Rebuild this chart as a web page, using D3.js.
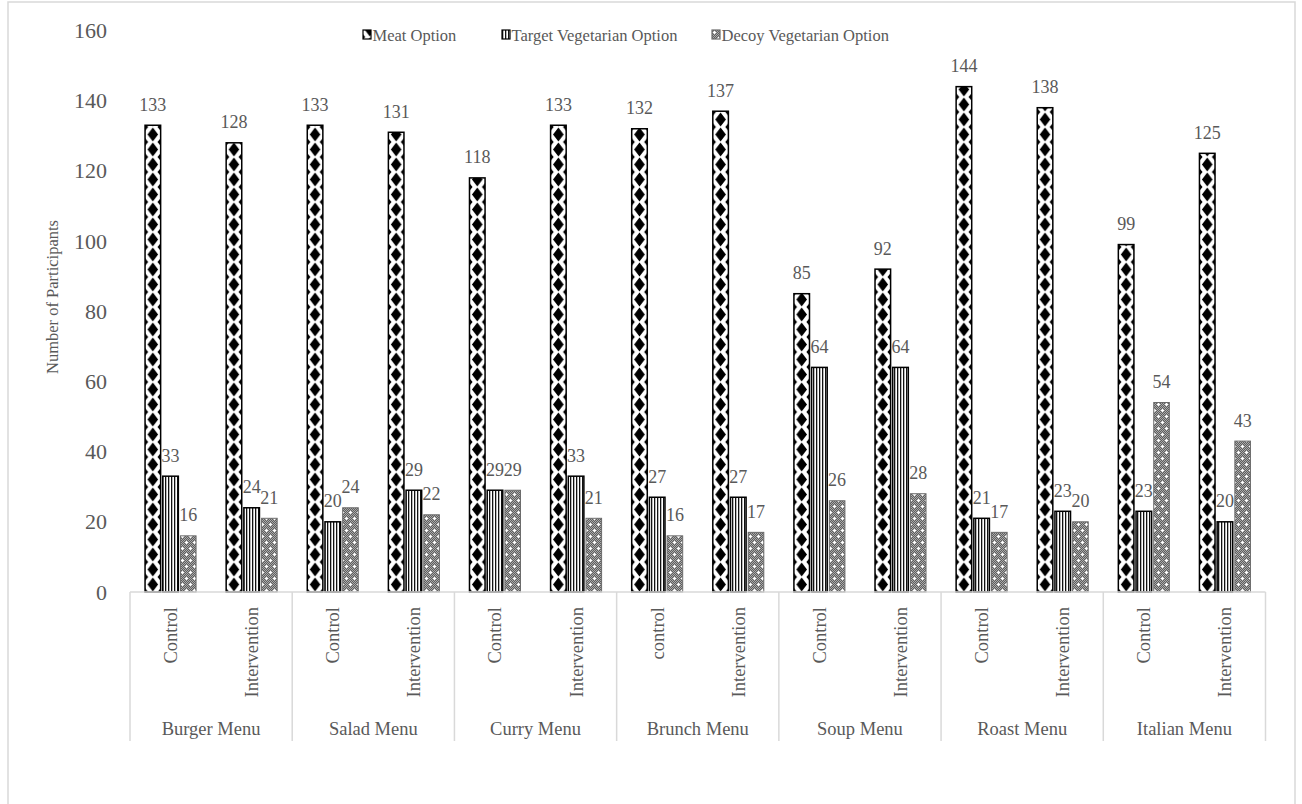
<!DOCTYPE html>
<html>
<head>
<meta charset="utf-8">
<script src="https://cdn.jsdelivr.net/npm/d3@7"></script>
<style>
  html, body { margin: 0; padding: 0; background: #fff; }
  svg { display: block; font-family: "Liberation Serif", "Times New Roman", serif; }
</style>
</head>
<body>
<svg id="chart" width="1302" height="804"></svg>
<script>
// Menu groups and the two conditions shown under each
const menus = ["Burger Menu", "Salad Menu", "Curry Menu", "Brunch Menu", "Soup Menu", "Roast Menu", "Italian Menu"];
const conditionLabels = [
  ["Control", "Intervention"],
  ["Control", "Intervention"],
  ["Control", "Intervention"],
  ["control", "Intervention"],
  ["Control", "Intervention"],
  ["Control", "Intervention"],
  ["Control", "Intervention"]
];
const seriesNames = ["Meat Option", "Target Vegetarian Option", "Decoy Vegetarian Option"];

// Participant counts, in order: menu × (control, intervention)
const meatValues   = [133, 128, 133, 131, 118, 133, 132, 137, 85, 92, 144, 138, 99, 125];
const targetValues = [33, 24, 20, 29, 29, 33, 27, 27, 64, 64, 21, 23, 23, 20];
const decoyValues  = [16, 21, 24, 22, 29, 21, 16, 17, 26, 28, 17, 20, 54, 43];

const yTicks = [0, 20, 40, 60, 80, 100, 120, 140, 160];

const textColor = "#595959";
const lineColor = "#d9d9d9";

const svg = d3.select("#chart");

// Outer chart frame
svg.append("rect")
  .attr("x", 8).attr("y", 2)
  .attr("width", 1287).attr("height", 830)
  .attr("fill", "#fff").attr("stroke", lineColor).attr("stroke-width", 1.5);

// Flattened categories: one slot per menu/condition pair
const slots = [];
menus.forEach((m, i) => conditionLabels[i].forEach((c, j) => slots.push({ menu: m, menuIndex: i, label: c, idx: slots.length })));

const x = d3.scaleBand().domain(d3.range(slots.length)).range([130, 1265.5]).padding(0);
const slotW = x.bandwidth();
const half = 25.5;
const xs = d3.scaleBand().domain(seriesNames).range([-half, half]).paddingInner(0.12);
const y = d3.scaleLinear().domain([0, 160]).range([592, 30.5]);

// ---------- fill patterns ----------
const defs = svg.append("defs");

// Meat: column of black diamonds on white, tile width chosen so every slot shares the same phase
const dW = slotW / 5, dH = 15;
const meatOffset = x(0) + slotW / 2 + xs("Meat Option") + xs.bandwidth() / 2 - dW / 2;
const pm = defs.append("pattern").attr("id", "pat-meat").attr("patternUnits", "userSpaceOnUse")
  .attr("x", meatOffset).attr("y", 592).attr("width", dW).attr("height", dH);
pm.append("rect").attr("width", dW).attr("height", dH).attr("fill", "#fff");
const dia = (cx, cy, rx, ry) => `M${cx},${cy - ry}L${cx + rx},${cy}L${cx},${cy + ry}L${cx - rx},${cy}Z`;
const big = [5.3, 7.0], small = [3.4, 4.2];
pm.append("path").attr("fill", "#000")
  .attr("d", dia(dW / 2, dH / 2, ...big)
    + dia(0, 0, ...small) + dia(dW, 0, ...small) + dia(0, dH, ...small) + dia(dW, dH, ...small));

// Target: thin vertical stripes
const pt = defs.append("pattern").attr("id", "pat-target").attr("patternUnits", "userSpaceOnUse")
  .attr("width", 3).attr("height", 6);
pt.append("rect").attr("width", 3).attr("height", 6).attr("fill", "#fff");
pt.append("rect").attr("x", 0).attr("width", 1.3).attr("height", 6).attr("fill", "#111");

// Decoy: grey dither with small white crosses
const pd = defs.append("pattern").attr("id", "pat-decoy").attr("patternUnits", "userSpaceOnUse")
  .attr("width", 8).attr("height", 12);
pd.append("rect").attr("width", 8).attr("height", 12).attr("fill", "#5e5e5e");
for (let i = 0; i < 8; i++) {
  for (let j = 0; j < 12; j++) {
    if ((i + j) % 2 === 0) pd.append("rect").attr("x", i).attr("y", j).attr("width", 1).attr("height", 1).attr("fill", "#aaaaaa");
  }
}
const cross = (cx, cy) => {
  pd.append("rect").attr("x", cx - 1).attr("y", cy).attr("width", 3).attr("height", 1).attr("fill", "#fff");
  pd.append("rect").attr("x", cx).attr("y", cy - 1).attr("width", 1).attr("height", 3).attr("fill", "#fff");
};
cross(2, 2); cross(6, 8);

const series = [
  { name: "Meat Option", values: meatValues, fill: "url(#pat-meat)", stroke: "#000", sw: 1.5 },
  { name: "Target Vegetarian Option", values: targetValues, fill: "url(#pat-target)", stroke: "#000", sw: 1.5 },
  { name: "Decoy Vegetarian Option", values: decoyValues, fill: "url(#pat-decoy)", stroke: "#6a6a6a", sw: 1 }
];

// ---------- bars ----------
const barLayer = svg.append("g");
series.forEach(s => {
  const g = barLayer.append("g");
  g.selectAll("rect").data(s.values).join("rect")
    .attr("x", (d, i) => x(i) + slotW / 2 + xs(s.name))
    .attr("y", d => y(d))
    .attr("width", xs.bandwidth())
    .attr("height", d => y(0) - y(d))
    .attr("fill", s.fill)
    .attr("stroke", s.stroke)
    .attr("stroke-width", s.sw);
});

// ---------- value labels ----------
const labelLayer = svg.append("g").attr("fill", textColor).attr("font-size", 18).attr("text-anchor", "middle");
series.forEach(s => {
  labelLayer.append("g").selectAll("text").data(s.values).join("text")
    .attr("x", (d, i) => x(i) + slotW / 2 + xs(s.name) + xs.bandwidth() / 2)
    .attr("y", d => y(d) - 14.5)
    .text(d => d);
});

// ---------- y axis ----------
const yAxis = svg.append("g").attr("transform", "translate(130,0)")
  .call(d3.axisLeft(y).tickValues(yTicks).tickSize(0).tickPadding(23));
yAxis.select(".domain").remove();
yAxis.selectAll("text").attr("fill", textColor).attr("font-size", 22)
  .attr("font-family", "Liberation Serif, serif");

svg.append("text")
  .attr("transform", "translate(58,297) rotate(-90)")
  .attr("text-anchor", "middle")
  .attr("font-size", 16.5)
  .attr("fill", textColor)
  .text("Number of Participants");

// ---------- multi-level category axis ----------
const axisG = svg.append("g").attr("stroke", lineColor).attr("stroke-width", 1.5);
axisG.append("line").attr("x1", x(0)).attr("x2", x(slots.length - 1) + slotW).attr("y1", y(0)).attr("y2", y(0));
const boundaries = d3.range(0, slots.length + 1, 2).map(i => i < slots.length ? x(i) : x(slots.length - 1) + slotW);
axisG.selectAll("line.sep").data(boundaries).join("line").attr("class", "sep")
  .attr("x1", d => d).attr("x2", d => d).attr("y1", y(0)).attr("y2", 741);

svg.append("g").selectAll("text").data(slots).join("text")
  .attr("transform", d => `translate(${x(d.idx) + slotW / 2},607) rotate(-90)`)
  .attr("text-anchor", "end")
  .attr("dy", "0.35em")
  .attr("font-size", 18.5)
  .attr("fill", textColor)
  .text(d => d.label);

svg.append("g").selectAll("text").data(menus).join("text")
  .attr("x", (d, i) => x(i * 2) + slotW)
  .attr("y", 735)
  .attr("text-anchor", "middle")
  .attr("font-size", 18.5)
  .attr("fill", textColor)
  .text(d => d);

// ---------- legend ----------
const legendX = [363, 502, 712];
const legend = svg.append("g");
series.forEach((s, i) => {
  const g = legend.append("g").attr("transform", `translate(${legendX[i]},30)`);
  g.append("rect").attr("width", 8).attr("height", 9)
    .attr("fill", s.fill).attr("stroke", s.stroke).attr("stroke-width", 1.2);
  g.append("text").attr("x", 9.5).attr("y", 10.5)
    .attr("font-size", 16.5).attr("fill", textColor).text(s.name);
});
</script>
</body>
</html>
